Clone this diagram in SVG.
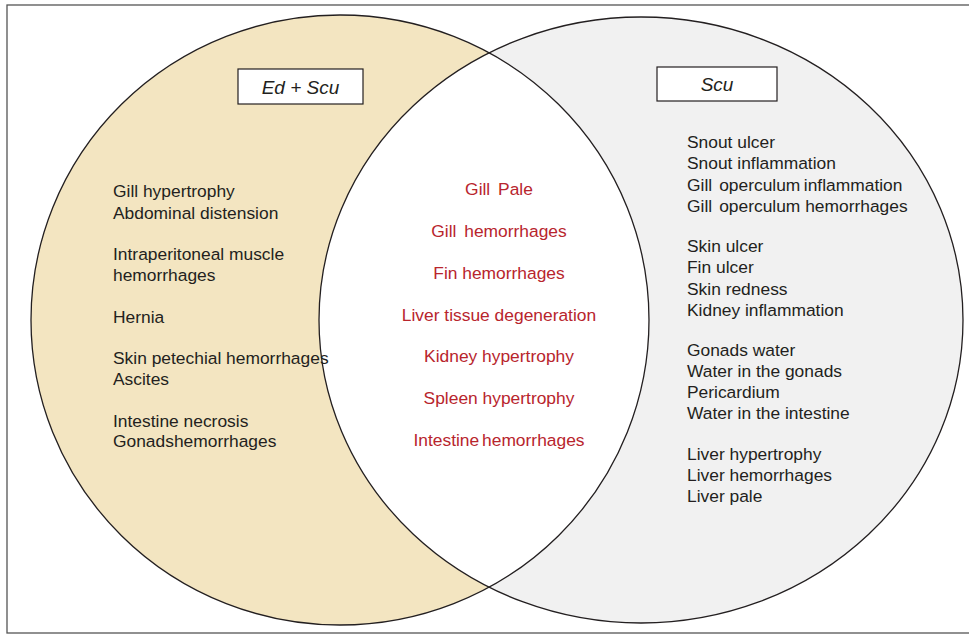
<svg xmlns="http://www.w3.org/2000/svg" width="969" height="635" viewBox="0 0 969 635">
  <style>
    .lbl { font-family: "Liberation Sans", Arial, sans-serif; font-size: 17.4px; fill: #231f20; }
    .mid { font-family: "Liberation Sans", Arial, sans-serif; font-size: 17.4px; fill: #b8252d; text-anchor: middle; }
    .ttl { font-family: "Liberation Sans", Arial, sans-serif; font-size: 19px; font-style: italic; fill: #231f20; text-anchor: middle; }
    .edge { fill: none; stroke: #231f20; stroke-width: 1.3; }
    .box { fill: #ffffff; stroke: #231f20; stroke-width: 1.2; }
  </style>
  <defs>
    <clipPath id="clipLeft">
      <ellipse cx="340" cy="320" rx="309" ry="305"/>
    </clipPath>
  </defs>
  <rect x="0" y="0" width="969" height="635" fill="#ffffff"/>
  <rect x="7" y="5" width="970" height="628" fill="none" stroke="#555" stroke-width="1.3"/>

  <g id="set-ed-scu">
    <ellipse cx="340" cy="320" rx="309" ry="305" fill="#f3e5c1"/>
  </g>
  <g id="set-scu">
    <ellipse cx="641" cy="320" rx="322" ry="303" fill="#f1f1f1"/>
  </g>
  <g id="intersection">
    <ellipse cx="641" cy="320" rx="322" ry="303" fill="#ffffff" clip-path="url(#clipLeft)"/>
  </g>
  <g id="outlines">
    <ellipse class="edge" cx="340" cy="320" rx="309" ry="305"/>
    <ellipse class="edge" cx="641" cy="320" rx="322" ry="303"/>
  </g>

  <g id="title-ed-scu">
    <rect class="box" x="238" y="69" width="125" height="35"/>
    <text class="ttl" x="300.5" y="93.5">Ed + Scu</text>
  </g>
  <g id="title-scu">
    <rect class="box" x="657" y="67" width="120" height="34"/>
    <text class="ttl" x="717" y="91">Scu</text>
  </g>

  <g id="left-items">
    <text class="lbl" x="113" y="197">Gill hypertrophy</text>
    <text class="lbl" x="113" y="219">Abdominal distension</text>
    <text class="lbl" x="113" y="260">Intraperitoneal muscle</text>
    <text class="lbl" x="113" y="281">hemorrhages</text>
    <text class="lbl" x="113" y="323">Hernia</text>
    <text class="lbl" x="113" y="364">Skin petechial hemorrhages</text>
    <text class="lbl" x="113" y="385">Ascites</text>
    <text class="lbl" x="113" y="427">Intestine necrosis</text>
    <text class="lbl" x="113" y="447">Gonadshemorrhages</text>
  </g>

  <g id="middle-items">
    <text class="mid" x="499" y="195" word-spacing="3">Gill Pale</text>
    <text class="mid" x="499" y="237" word-spacing="3">Gill hemorrhages</text>
    <text class="mid" x="499" y="279">Fin hemorrhages</text>
    <text class="mid" x="499" y="321">Liver tissue degeneration</text>
    <text class="mid" x="499" y="362">Kidney hypertrophy</text>
    <text class="mid" x="499" y="404">Spleen hypertrophy</text>
    <text class="mid" x="499" y="446" word-spacing="-2">Intestine hemorrhages</text>
  </g>

  <g id="right-items">
    <text class="lbl" x="687" y="148">Snout ulcer</text>
    <text class="lbl" x="687" y="169">Snout inflammation</text>
    <text class="lbl" x="687" y="191"><tspan>Gill</tspan><tspan dx="7">operculum</tspan><tspan dx="3.5">inflammation</tspan></text>
    <text class="lbl" x="687" y="212"><tspan>Gill</tspan><tspan dx="7">operculum hemorrhages</tspan></text>
    <text class="lbl" x="687" y="252">Skin ulcer</text>
    <text class="lbl" x="687" y="273">Fin ulcer</text>
    <text class="lbl" x="687" y="295">Skin redness</text>
    <text class="lbl" x="687" y="316">Kidney inflammation</text>
    <text class="lbl" x="687" y="356">Gonads water</text>
    <text class="lbl" x="687" y="377">Water in the gonads</text>
    <text class="lbl" x="687" y="398">Pericardium</text>
    <text class="lbl" x="687" y="419">Water in the intestine</text>
    <text class="lbl" x="687" y="460">Liver hypertrophy</text>
    <text class="lbl" x="687" y="481">Liver hemorrhages</text>
    <text class="lbl" x="687" y="502">Liver pale</text>
  </g>
</svg>
